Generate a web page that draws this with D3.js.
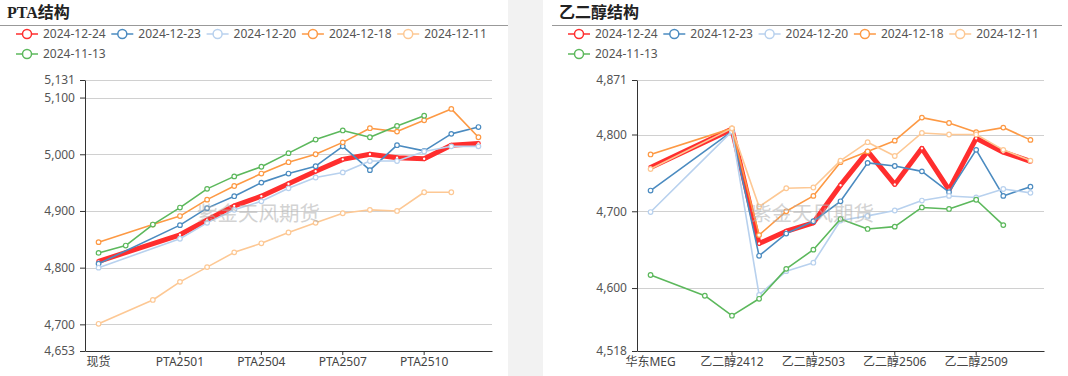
<!DOCTYPE html>
<html><head><meta charset="utf-8">
<script src="https://cdn.jsdelivr.net/npm/d3@7/dist/d3.min.js"></script>
<style>
body{margin:0;background:#fff;}
svg{display:block;}
</style></head>
<body><svg id="c" width="1068" height="376"></svg>
<script>
// ---------- data ----------
const seriesNames = ["2024-12-24","2024-12-23","2024-12-20","2024-12-18","2024-12-11","2024-11-13"];
const seriesColors = ["#ff2e2e","#4b8bc0","#b8d1ee","#fd9944","#fdc894","#5cb85c"];

const ptaCategories = ["现货","PTA2411","PTA2412","PTA2501","PTA2502","PTA2503","PTA2504","PTA2505","PTA2506","PTA2507","PTA2508","PTA2509","PTA2510","PTA2511","PTA2512"];
const ptaTicks = [4653,4700,4800,4900,5000,5100,5131];
const pta_1224 = [4811,null,null,4858,4884,4909,4926,4948,4970,4991,5000,4994,4992,5016,5019];
const pta_1223 = [4807,null,null,4875,4905,4926,4950,4966,4979,5014,4972,5016,5006,5036,5048];
const pta_1220 = [4800,null,null,4851,4879,4902,4917,4940,4959,4968,4988,4988,5005,5014,5014];
const pta_1218 = [4845,null,4876,4891,4920,4944,4966,4986,5000,5021,5046,5040,5060,5080,5030];
const pta_1211 = [4701,null,4743,4775,4801,4827,4843,4862,4879,4896,4902,4900,4933,4933,null];
const pta_1113 = [4826,4839,4876,4906,4939,4961,4978,5002,5026,5042,5030,5050,5068,null,null];

const megCategories = ["华东MEG","乙二醇2410","乙二醇2411","乙二醇2412","乙二醇2501","乙二醇2502","乙二醇2503","乙二醇2504","乙二醇2505","乙二醇2506","乙二醇2507","乙二醇2508","乙二醇2509","乙二醇2510","乙二醇2511"];
const megTicks = [4518,4600,4700,4800,4871];
const meg_1224 = [4757,null,null,4807,4658,4674,4685,4734,4778,4735,4782,4728,4795,4777,4765];
const meg_1223 = [4727,null,null,4804,4642,4671,4687,4713,4763,4759,4752,4725,4780,4720,4732];
const meg_1220 = [4699,null,null,4804,4591,4622,4633,4688,4694,4701,4714,4720,4718,4729,4724];
const meg_1218 = [4774,null,null,4808,4669,4700,4720,4764,4778,4792,4822,4815,4803,4809,4793];
const meg_1211 = [4755,null,null,4808,4706,4730,4731,4766,4790,4772,4802,4800,4800,4780,4766];
const meg_1113 = [4617,null,4590,4564,4586,4625,4650,4690,4677,4680,4705,4703,4715,4682,null];

// ---------- drawing ----------
const svg = d3.select("#c");
const fontSans = "'Noto Sans','Noto Sans CJK SC',sans-serif";
const fontTitle = "'Liberation Serif','Noto Sans CJK SC',serif";

// separator strip
svg.append("rect").attr("x",508).attr("y",0).attr("width",35).attr("height",376).attr("fill","#f2f2f2");

function panel(opt){
  const g = svg.append("g");
  // title
  g.append("text").attr("x",opt.titleX).attr("y",18).text(opt.title)
    .attr("font-family",fontTitle).attr("font-weight","bold").attr("font-size",16).attr("fill","#222");
  g.append("line").attr("x1",opt.lineX1).attr("x2",opt.lineX2).attr("y1",25.5).attr("y2",25.5)
    .attr("stroke","#999").attr("stroke-width",1);
  // legend
  seriesNames.forEach((n,i)=>{
    const row = i<5?0:1, col = i<5?i:0;
    const sx = opt.legendX + col*95.3, sy = 34 + row*20;
    const lg = g.append("g");
    lg.append("line").attr("x1",sx).attr("x2",sx+22).attr("y1",sy).attr("y2",sy)
      .attr("stroke",seriesColors[i]).attr("stroke-width",1.5);
    lg.append("circle").attr("cx",sx+11).attr("cy",sy).attr("r",4.5)
      .attr("fill","#fff").attr("stroke",seriesColors[i]).attr("stroke-width",1.5);
    lg.append("text").attr("x",sx+27).attr("y",sy+4.3).text(n)
      .attr("font-family",fontSans).attr("font-size",12).attr("fill","#555");
  });
  const x = d3.scaleBand().domain(opt.categories).range([opt.x0,opt.x1]).padding(0);
  const y = d3.scaleLinear().domain([opt.ticks[0],opt.ticks[opt.ticks.length-1]]).range([351,80]);
  const cx = c => x(c)+x.bandwidth()/2;
  // grid
  g.append("g").selectAll("line").data(opt.ticks.slice(1)).join("line")
    .attr("x1",opt.x0).attr("x2",opt.x1).attr("y1",d=>Math.round(y(d))+0.5).attr("y2",d=>Math.round(y(d))+0.5)
    .attr("stroke","#d0d0d0").attr("stroke-width",1);
  // y axis
  const ya = g.append("g").attr("transform",`translate(${opt.x0},0)`)
    .call(d3.axisLeft(y).tickValues(opt.ticks).tickFormat(d3.format(",")).tickSize(5).tickSizeOuter(0));
  ya.select(".domain").attr("stroke","#333");
  ya.selectAll(".tick line").attr("stroke","#333");
  ya.selectAll("text").attr("font-family",fontSans).attr("font-size",12).attr("fill","#555").attr("dx",-2);
  // x axis
  const shown = opt.categories.filter((c,i)=>i%3===0);
  const xa = g.append("g").attr("transform","translate(0,351)")
    .call(d3.axisBottom(x).tickValues(shown).tickSize(4).tickSizeOuter(0));
  xa.select(".domain").attr("stroke","#333");
  xa.selectAll(".tick line").attr("stroke","#333");
  xa.selectAll("text").attr("font-family",fontSans).attr("font-size",12).attr("fill","#444").attr("dy","0.7em");
  xa.selectAll(".tick").filter((d,i)=>i===0).select("line").remove();
  // series
  opt.series.forEach((vals,i)=>{
    const pts = opt.categories.map((c,j)=>({c,v:vals[j]})).filter(p=>p.v!==null);
    const line = d3.line().x(p=>cx(p.c)).y(p=>y(p.v));
    g.append("path").datum(pts).attr("d",line).attr("fill","none")
      .attr("stroke",seriesColors[i]).attr("stroke-width",i===0?5:1.6).attr("stroke-linejoin","round");
    g.append("g").selectAll("circle").data(pts).join("circle")
      .attr("cx",p=>cx(p.c)).attr("cy",p=>y(p.v)).attr("r",i===0?1.8:2.3)
      .attr("fill","#fff").attr("stroke",seriesColors[i]).attr("stroke-width",1.2);
  });
  // watermark (over the lines)
  g.append("text").attr("x",opt.wmX).attr("y",221).text("紫金天风期货")
    .attr("font-family",fontSans).attr("font-size",20.5).attr("fill","#b0b0b0").attr("opacity",0.55);
}

panel({title:"PTA结构",titleX:7,lineX1:0,lineX2:508,legendX:16,
  categories:ptaCategories,ticks:ptaTicks,x0:85,x1:492,wmX:197,
  series:[pta_1224,pta_1223,pta_1220,pta_1218,pta_1211,pta_1113]});
panel({title:"乙二醇结构",titleX:559,lineX1:552,lineX2:1062,legendX:568,
  categories:megCategories,ticks:megTicks,x0:637,x1:1044,wmX:751,
  series:[meg_1224,meg_1223,meg_1220,meg_1218,meg_1211,meg_1113]});
</script>
</body></html>
